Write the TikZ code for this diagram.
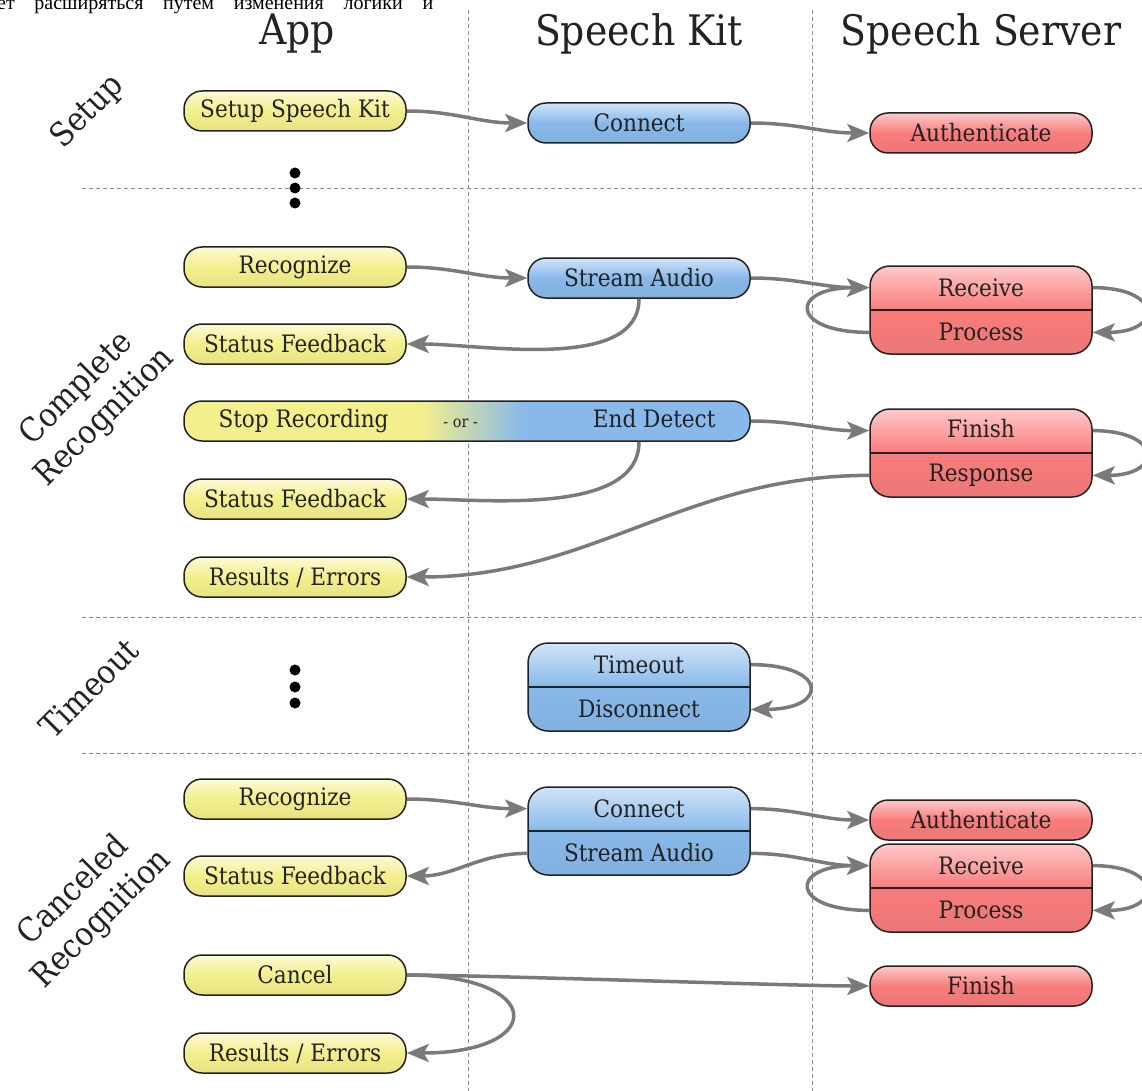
\documentclass[tikz,border=0pt]{standalone}
\usepackage{fontspec}
\setmainfont{DejaVu Serif Condensed}
\newfontfamily\rufont{Liberation Serif}
\usetikzlibrary{arrows.meta,calc}
\definecolor{ylw}{HTML}{F3EF8C}
\definecolor{ylwtop}{HTML}{FCFAD6}
\definecolor{blu}{HTML}{88B9EA}
\definecolor{blutop}{HTML}{D2E5F8}
\definecolor{rd}{HTML}{F97C7C}
\definecolor{rdtop}{HTML}{FDCACA}
\definecolor{flowgray}{HTML}{7A7A7A}
\definecolor{ink}{HTML}{222222}
\pgfdeclarehorizontalshading{orshade}{100bp}{color(0bp)=(ylw); color(46bp)=(ylw); color(55bp)=(blu); color(100bp)=(blu)}
\tikzset{
  box/.style={draw=ink,line width=1.5pt,rounded corners=18pt,minimum width=222pt,
    minimum height=40pt,inner sep=0pt,text=ink,font=\fontsize{24}{26}\selectfont},
  appbox/.style={box,top color=ylwtop,bottom color=ylw!95!black,middle color=ylw},
  kitbox/.style={box,top color=blutop,bottom color=blu!95!black,middle color=blu},
  srvbox/.style={box,top color=rdtop,bottom color=rd!95!black,middle color=rd},
  pairbox/.style={minimum height=88pt,rounded corners=20pt,align=center,
    font=\fontsize{24}{44}\selectfont,
    path picture={\draw[ink,line width=1.5pt] (path picture bounding box.west)
      -- (path picture bounding box.east);}},
  flow/.style={draw=flowgray,line width=3.5pt,-{Stealth[length=22pt,width=18pt,inset=5pt]}},
  lane/.style={draw=black!45,line width=0.9pt,dash pattern=on 4pt off 3pt},
  phase/.style={rotate=45,align=center,text=ink,font=\fontsize{33}{40}\selectfont},
  lanehead/.style={text=ink,font=\fontsize{42}{46}\selectfont}
}
\begin{document}
\begin{tikzpicture}[x=1pt,y=-1pt]
  \useasboundingbox (0,0) rectangle (1142,1091);
  \node[anchor=base west,inner sep=0pt,font=\rufont\fontsize{20}{24}\selectfont] (note) at (-3,10)
    {\hbox to 436pt{ет\hfill расширяться\hfill путем\hfill изменения\hfill логики\hfill и}};
  \draw[lane] (468,10)--(468,1091);
  \draw[lane] (812,10)--(812,1091);
  \foreach \y in {188,617,753} \draw[lane] (82,\y)--(1142,\y);
  \node[lanehead] (apphead) at (297,34) {App};
  \node[lanehead] (kithead) at (639,34) {Speech Kit};
  \node[lanehead] (srvhead) at (981,34) {Speech Server};
  \node[phase] (setuplbl) at (88,112) {Setup};
  \node[phase] (completelbl) at (91,403) {Complete\\Recognition};
  \node[phase] (timeoutlbl) at (89,688) {Timeout};
  \node[phase] (cancellbl) at (88,905) {Canceled\\Recognition};
  \foreach \y in {173,188,203,670,687,703} \fill[black] (295,\y) circle (5.5pt);

  \node[appbox] (setup) at (295,111) {Setup Speech Kit};
  \node[kitbox] (conn1) at (639,123) {Connect};
  \node[srvbox] (auth1) at (981,133) {Authenticate};

  \node[appbox] (rec1) at (295,267) {Recognize};
  \node[kitbox] (sa1) at (639,278) {Stream Audio};
  \node[srvbox,pairbox] (rp1) at (981,310) {Receive\\Process};
  \node[appbox] (fb1) at (295,344) {Status Feedback};
  \node[box,minimum width=566pt,shading=orshade] (stopend) at (467,421)
    {\hbox to 497pt{Stop Recording\hfill{\fontsize{16}{20}\selectfont- or -}\hspace{60pt}\hfill End Detect}};
  \node[srvbox,pairbox] (fr) at (981,453) {Finish\\Response};
  \node[appbox] (fb2) at (295,499) {Status Feedback};
  \node[appbox] (res1) at (295,577) {Results / Errors};

  \node[kitbox,pairbox] (tdisc) at (639,687) {Timeout\\Disconnect};

  \node[appbox] (rec2) at (295,799) {Recognize};
  \node[kitbox,pairbox] (cs) at (639,831) {Connect\\Stream Audio};
  \node[srvbox] (auth2) at (981,820) {Authenticate};
  \node[srvbox,pairbox] (rp2) at (981,888) {Receive\\Process};
  \node[appbox] (fb3) at (295,876) {Status Feedback};
  \node[appbox] (cancel) at (295,975) {Cancel};
  \node[srvbox] (fin) at (981,986) {Finish};
  \node[appbox] (res2) at (295,1053) {Results / Errors};

  \foreach \n in {rp1,fr,tdisc,cs,rp2} {
    \coordinate (\n tw) at ($(\n.west)!.5!(\n.north west)$);
    \coordinate (\n bw) at ($(\n.west)!.5!(\n.south west)$);
    \coordinate (\n te) at ($(\n.east)!.5!(\n.north east)$);
    \coordinate (\n be) at ($(\n.east)!.5!(\n.south east)$);
  }
  \coordinate (enddet) at (sa1.south |- stopend.south);

  \draw[flow] (setup.east) to[out=0,in=180] (conn1.west);
  \draw[flow] (conn1.east) to[out=0,in=180] (auth1.west);
  \draw[flow] (rec1.east) to[out=0,in=180] (sa1.west);
  \draw[flow] (sa1.east) to[out=0,in=180] (rp1tw);
  \draw[flow] (rp1bw) .. controls +(-80,0) and +(-80,0) .. (rp1tw);
  \draw[flow] (rp1te) .. controls +(70,0) and +(70,0) .. (rp1be);
  \draw[flow] (sa1.south) to[out=-90,in=0,looseness=0.8] (fb1.east);
  \draw[flow] (stopend.east) to[out=0,in=180] (frtw);
  \draw[flow] (frte) .. controls +(70,0) and +(70,0) .. (frbe);
  \draw[flow] (enddet) to[out=-90,in=0,looseness=0.8] (fb2.east);
  \draw[flow] (frbw) to[out=180,in=0] (res1.east);
  \draw[flow] (tdiscte) .. controls +(78,0) and +(78,0) .. (tdiscbe);
  \draw[flow] (rec2.east) to[out=0,in=180] (cstw);
  \draw[flow] (cste) to[out=0,in=180] (auth2.west);
  \draw[flow] (csbw) to[out=180,in=0] (fb3.east);
  \draw[flow] (csbe) to[out=0,in=180] (rp2tw);
  \draw[flow] (rp2bw) .. controls +(-80,0) and +(-80,0) .. (rp2tw);
  \draw[flow] (rp2te) .. controls +(70,0) and +(70,0) .. (rp2be);
  \draw[flow] (cancel.east) to[out=0,in=180,looseness=0.4] (fin.west);
  \draw[flow] (cancel.east) .. controls +(140,0) and +(140,0) .. (res2.east);
\end{tikzpicture}
\end{document}
